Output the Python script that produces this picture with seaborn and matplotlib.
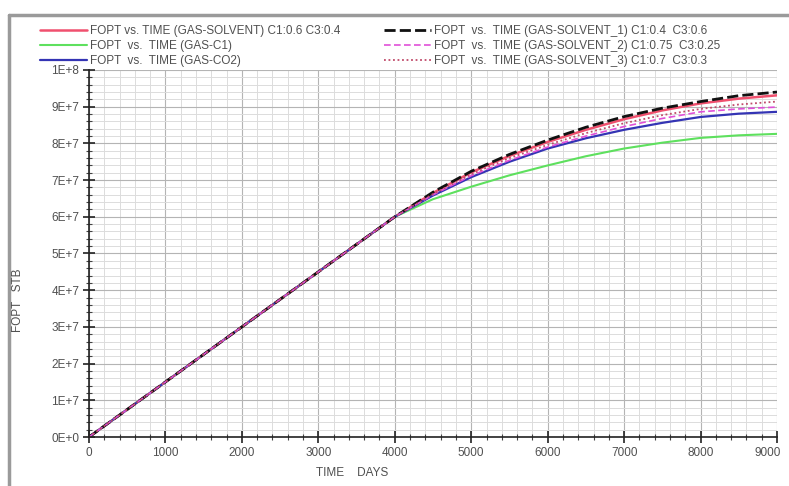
import matplotlib
matplotlib.use('Agg')
import matplotlib.pyplot as plt
import matplotlib.transforms as mtransforms
from matplotlib.lines import Line2D
from matplotlib.ticker import MultipleLocator
import seaborn as sns


## Data (FOPT in STB, time in days)

days = [0, 1000, 2000, 3000, 4000, 4500, 5000, 5500, 6000, 6500, 7000, 7500, 8000, 8500, 9000]
shared = [0.0, 1.5e7, 3.0e7, 4.5e7, 6.0e7]

fopt_solvent = shared + [6.65e7, 7.21e7, 7.66e7, 8.04e7, 8.37e7, 8.66e7, 8.90e7, 9.09e7, 9.22e7, 9.31e7]
fopt_c1 = shared + [6.48e7, 6.82e7, 7.13e7, 7.40e7, 7.65e7, 7.86e7, 8.02e7, 8.15e7, 8.22e7, 8.26e7]
fopt_co2 = shared + [6.58e7, 7.08e7, 7.50e7, 7.86e7, 8.14e7, 8.37e7, 8.56e7, 8.72e7, 8.81e7, 8.86e7]
fopt_solvent_1 = shared + [6.67e7, 7.24e7, 7.70e7, 8.09e7, 8.44e7, 8.73e7, 8.96e7, 9.14e7, 9.30e7, 9.40e7]
fopt_solvent_2 = shared + [6.60e7, 7.12e7, 7.54e7, 7.90e7, 8.20e7, 8.46e7, 8.68e7, 8.86e7, 8.94e7, 8.99e7]
fopt_solvent_3 = shared + [6.62e7, 7.16e7, 7.60e7, 7.96e7, 8.28e7, 8.55e7, 8.77e7, 8.94e7, 9.06e7, 9.14e7]

series_labels = [
    'FOPT vs. TIME (GAS-SOLVENT) C1:0.6 C3:0.4',
    'FOPT  vs.  TIME (GAS-C1)',
    'FOPT  vs.  TIME (GAS-CO2)',
    'FOPT  vs.  TIME (GAS-SOLVENT_1) C1:0.4  C3:0.6',
    'FOPT  vs.  TIME (GAS-SOLVENT_2) C1:0.75  C3:0.25',
    'FOPT  vs.  TIME (GAS-SOLVENT_3) C1:0.7  C3:0.3',
]
series_values = [fopt_solvent, fopt_c1, fopt_co2, fopt_solvent_1, fopt_solvent_2, fopt_solvent_3]

xtick_values = [0, 1000, 2000, 3000, 4000, 5000, 6000, 7000, 8000, 9000]
ytick_values = [0, 1e7, 2e7, 3e7, 4e7, 5e7, 6e7, 7e7, 8e7, 9e7, 1e8]
ytick_labels = ['0E+0', '1E+7', '2E+7', '3E+7', '4E+7', '5E+7', '6E+7', '7E+7', '8E+7', '9E+7', '1E+8']

## Styles

colors = ['#f0506e', '#5ee05e', '#3434b4', '#111111', '#e050d8', '#c04a6a']
styles = ['-', '-', '-', (0, (4, 1.5)), (0, (4, 2)), (0, (1, 1.5))]
widths = [1.8, 1.5, 1.6, 2.0, 1.2, 1.3]

sns.set_style('white')
plt.rcParams['font.family'] = ['Liberation Sans', 'DejaVu Sans']
text_grey = '#505050'
fs = 8.5

fig = plt.figure(figsize=(7.89, 4.86), dpi=100)
ax = fig.add_axes([89 / 789, 49 / 486, 688 / 789, 367 / 486])

handles = []
for vals, lab, col, ls, lw in zip(series_values, series_labels, colors, styles, widths):
    sns.lineplot(x=days, y=vals, ax=ax, color=col, linestyle=ls, linewidth=lw, legend=False)
    handles.append(Line2D([], [], color=col, linestyle=ls, linewidth=lw, label=lab))

ax.set_xlim(0, 9000)
ax.set_ylim(0, 1e8)
ax.set_xticks(xtick_values)
ax.set_xticklabels([str(v) for v in xtick_values])
ax.set_yticks(ytick_values)
ax.set_yticklabels(ytick_labels)
ax.xaxis.set_minor_locator(MultipleLocator(200))
ax.yaxis.set_minor_locator(MultipleLocator(2e6))

ax.grid(which='minor', color='#dcdcdc', linewidth=0.7)
ax.grid(which='major', color='#b4b4b4', linewidth=0.8)
ax.set_axisbelow(True)

for side in ['top', 'right']:
    ax.spines[side].set_visible(False)
for side in ['left', 'bottom']:
    ax.spines[side].set_color('#222222')
    ax.spines[side].set_linewidth(1.2)

ax.tick_params(which='major', direction='inout', length=8, width=1.2, color='#222222',
               labelsize=fs, labelcolor=text_grey, pad=3, left=True, bottom=True)
ax.tick_params(which='minor', direction='inout', length=4, width=0.8, color='#444444',
               left=True, bottom=True)

# last x label sits inside the right edge, as in the reference
last = ax.get_xticklabels()[-1]
last.set_transform(last.get_transform() + mtransforms.ScaledTranslation(-9 / 100, 0, fig.dpi_scale_trans))

ax.set_xlabel('')
ax.set_ylabel('')
fig.text(352 / 789, 1 - 473 / 486, 'TIME    DAYS', ha='center', va='center',
         fontsize=fs, color=text_grey)
fig.text(18 / 789, 1 - 300 / 486, 'FOPT   STB', ha='center', va='center',
         rotation=90, fontsize=fs, color=text_grey)

## Legend, two blocks of three lines above the plot

leg_kw = dict(frameon=False, fontsize=fs, handlelength=4.0, handletextpad=0.2,
              labelspacing=0.25, borderpad=0, borderaxespad=0, loc='upper left',
              labelcolor=text_grey)
leg1 = fig.legend(handles=handles[:3], bbox_to_anchor=(40 / 789, 1 - 25 / 486), **leg_kw)
leg2 = fig.legend(handles=handles[3:], bbox_to_anchor=(384 / 789, 1 - 25 / 486), **leg_kw)

## Window frame
fig.add_artist(Line2D([9 / 789, 9 / 789], [0, 1 - 15 / 486], color='#9a9a9a', linewidth=2.5))
fig.add_artist(Line2D([9 / 789, 1], [1 - 15 / 486, 1 - 15 / 486], color='#9a9a9a', linewidth=2.5))

fig.savefig('out.png', dpi=100)
